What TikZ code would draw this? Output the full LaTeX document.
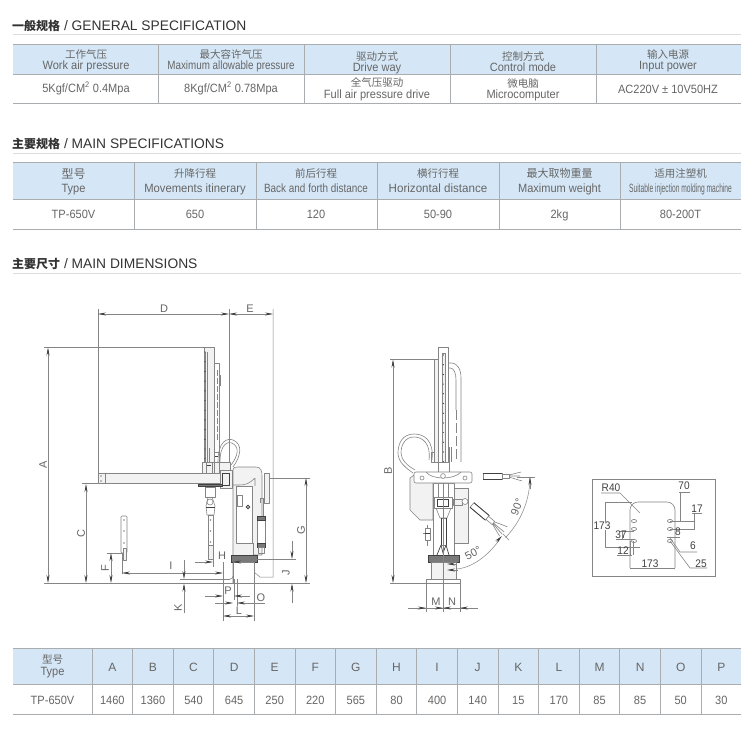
\documentclass[tikz,border=0pt]{standalone}
\usepackage{fontspec}
\usepackage{graphicx}
\setmainfont{Liberation Sans}
\newfontfamily\cjk{Noto Sans CJK SC}
\newfontfamily\cond[FakeStretch=0.92]{Liberation Sans}
\usetikzlibrary{arrows.meta}
\definecolor{hdfill}{HTML}{D5E7F6}
\definecolor{tline}{HTML}{A9ADB0}
\definecolor{rule}{HTML}{DDDDDD}
\definecolor{txt}{HTML}{666666}
\definecolor{head}{HTML}{333333}
\definecolor{lg}{HTML}{858585}
\definecolor{dk}{HTML}{404040}
\definecolor{pale}{HTML}{F2F2F2}
\newcommand{\sx}[2]{\scalebox{#1}[1]{#2}}
\newcommand{\hcell}[7]{%
  \node[cnt,font=\cjk\fontsize{#6}{#6}\selectfont] (#1c) at (#2,#3) {#4};
  \node[ent] (#1e) at (#2,#3+#7) {#5};}
\tikzset{
  heading/.style={anchor=base west,inner sep=0,text=head,font=\fontsize{13.8}{16}\selectfont},
  cnt/.style={anchor=base,inner sep=0,text=txt},
  ent/.style={anchor=base,inner sep=0,text=txt,font=\cond\fontsize{12}{14}\selectfont},
  tl/.style={draw=tline,line width=0.9pt},
  tv/.style={draw=tline,line width=0.7pt},
  part/.style={draw=lg,line width=0.6pt,line join=round},
  partf/.style={part,fill=pale},
  dimn/.style={draw=lg,line width=0.5pt},
  arr/.style={draw=lg,line width=0.5pt,>={Stealth[length=8pt,width=3pt,color=dk]}},
  lab/.style={inner sep=0,text=txt,font=\fontsize{11}{12}\selectfont},
  plab/.style={inner sep=0,text=dk,font=\cond\fontsize{11}{13}\selectfont},
  blackband/.style={draw=dk,fill=dk!70!white,line width=0.4pt},
}
\begin{document}
\begin{tikzpicture}[x=1pt,y=-1pt]
\useasboundingbox (0,0) rectangle (750,732);
\fill[white] (0,0) rectangle (750,732);
% ---------- headings
\node[heading] (h1) at (12,30) {{\cjk\bfseries\fontsize{12}{14}\selectfont 一般规格} / GENERAL SPECIFICATION};
\draw[rule,line width=1pt] (13,34.5) -- (741,34.5);
\node[heading] (h2) at (12,148.5) {{\cjk\bfseries\fontsize{12}{14}\selectfont 主要规格} / MAIN SPECIFICATIONS};
\draw[rule,line width=1pt] (13,153) -- (741,153);
\node[heading] (h3) at (12,268.5) {{\cjk\bfseries\fontsize{12}{14}\selectfont 主要尺寸} / MAIN DIMENSIONS};
\draw[rule,line width=1pt] (13,273.5) -- (741,273.5);
% ---------- table 1
\fill[hdfill] (13,44) rectangle (741,74.5);
\draw[tl] (13,44) -- (741,44) (13,74.5) -- (741,74.5) (13,103) -- (741,103);
\foreach \x in {158,304,450,596} \draw[tv] (\x,44) -- (\x,103);
\hcell{a1}{86}{58.5}{工作气压}{Work air pressure}{10.5}{11}
\hcell{a2}{231}{58.5}{最大容许气压}{\sx{0.89}{Maximum allowable pressure}}{10.5}{11}
\hcell{a3}{377}{60}{驱动方式}{Drive way}{10.5}{11}
\hcell{a4}{523}{60}{控制方式}{Control mode}{10.5}{11}
\hcell{a5}{668}{58.5}{输入电源}{Input power}{10.5}{11}
\node[ent] (b1) at (86,92) {5Kgf/CM\textsuperscript{2} 0.4Mpa};
\node[ent] (b2) at (231,92) {8Kgf/CM\textsuperscript{2} 0.78Mpa};
\hcell{b3}{377}{86.5}{全气压驱动}{Full air pressure drive}{10.5}{12}
\hcell{b4}{523}{87}{微电脑}{Microcomputer}{10.5}{11.5}
\node[ent] (b5) at (668,93) {AC220V ± 10V50HZ};
% ---------- table 2
\fill[hdfill] (13,162) rectangle (741,199);
\draw[tl] (13,162) -- (741,162) (13,199) -- (741,199) (13,229) -- (741,229);
\foreach \x in {134,256,377,499,620} \draw[tv] (\x,162) -- (\x,229);
\hcell{c1}{73.5}{178}{型号}{Type}{12}{14.5}
\hcell{c2}{195}{177}{升降行程}{\sx{1.02}{Movements itinerary}}{10.5}{15}
\hcell{c3}{316}{177}{前后行程}{\sx{0.9}{Back and forth distance}}{10.5}{15}
\hcell{c4}{438}{177}{横行行程}{\sx{1.05}{Horizontal distance}}{10.5}{15}
\hcell{c5}{559.5}{177}{最大取物重量}{Maximum weight}{11}{15}
\hcell{c6}{680.5}{177}{适用注塑机}{\sx{0.605}{Suitable injection molding machine}}{10.5}{15}
\node[ent] (d1) at (73.5,218.5) {TP-650V};
\node[ent] (d2) at (195,218.5) {650};
\node[ent] (d3) at (316,218.5) {120};
\node[ent] (d4) at (438,218.5) {50-90};
\node[ent] (d5) at (559.5,218.5) {2kg};
\node[ent] (d6) at (680.5,218.5) {80-200T};
% ---------- table 3
\fill[hdfill] (13,648) rectangle (741,684);
\draw[tl] (13,648) -- (741,648) (13,684) -- (741,684) (13,714) -- (741,714);
\draw[tv] (92,648) -- (92,714);
\foreach \i in {1,...,15} \draw[tv] ({92+\i*40.6},648) -- ({92+\i*40.6},714);
\hcell{t0}{52.5}{663}{型号}{Type}{10.5}{12}
\node[ent] (v0) at (52.5,704) {TP-650V};
\foreach \n/\l/\w [count=\i from 0] in {A/A/1460,B/B/1360,C/C/540,D/D/645,E/E/250,F/F/220,G/G/565,H/H/80,I/I/400,J/J/140,K/K/15,L/L/170,M/M/85,N/N/85,O/O/50,P/P/30}{
  \node[ent,font=\fontsize{12}{14}\selectfont] (th\n) at ({112.3+\i*40.6},671) {\l};
  \node[ent] (tv\n) at ({112.3+\i*40.6},704) {\w};
}
% ================= left view
\draw[dimn] (98,309) -- (98,473);
\draw[part] (229,309) -- (229,465);
\draw[dimn] (273,309) -- (273,577) -- (260,577) -- (254,572);
\draw[dimn] (44,347) -- (214,347);
\draw[part] (44,583.5) -- (310,583.5);
% rail
\draw[partf] (204,347) rectangle (214,470);
\draw[part] (205,352) -- (205,470) (207,352) -- (207,470);
\foreach \k in {0,...,11} \fill[dk] (205,{352+\k*9.7}) circle[radius=0.7pt];
\draw[part] (214,363) -- (219,363) -- (219,462);
\draw[part,dash pattern=on 6pt off 2pt] (217,370) -- (217,440);
\draw[part] (219,375) -- (220.5,375) -- (220.5,385) -- (219,385);
% hose
\draw[part] (218,462) .. controls (218,440) and (228,438) .. (233,440) .. controls (243,444) and (241,456) .. (233,467);
\draw[part] (220,462) .. controls (220,444) and (228,441) .. (232,443) .. controls (240,447) and (238,456) .. (231,465);
% head above arm
\draw[partf] (202,462) rectangle (230,473);
\draw[part] (206,462) rectangle (212,473) (214,452) rectangle (219,473);
\draw[part] (209,448) -- (209,462);
\draw[dk,line width=0.8pt] (207,465) -- (211,465) (215,456) -- (218,456);
% body
\draw[partf] (233,583) -- (233,470) .. controls (233,467) and (236,467) .. (240,467) -- (256,467) .. controls (261,467) and (262,471) .. (262,476) -- (262,555) -- (254,555) -- (254,583);
\draw[part,fill=white] (236,486) rectangle (252,543);
\draw[part] (233,485) -- (240,485) .. controls (246,485) and (250,483) .. (255,478) (255,478) -- (255,486);
\draw[part] (237,495) rectangle (242,506);
\draw[dk,line width=0.8pt] (248,507) circle[radius=1.8pt];
\draw[part] (253,543) -- (253,555);
% arm
\draw[partf] (98,473) rectangle (230,483);
\draw[part] (105,473) -- (105,483);
\fill[lg] (101,476) circle[radius=0.8pt] (101,481) circle[radius=0.8pt];
\draw[partf] (220,470) rectangle (232,488);
\draw[dk,line width=0.7pt] (222,473) rectangle (229,485);
\draw[blackband] (198,484) rectangle (222,486);
% centre gripper
\draw[part,fill=white] (205,487) rectangle (215,497);
\draw[part] (208,497) -- (206,506) -- (207,515) -- (214,515) -- (215,506) -- (212,497);
\draw[part] (210,502) circle[radius=3pt];
\draw[dk,line width=0.8pt] (206,507) -- (215,507);
\draw[part,fill=white] (208,515) rectangle (213,545);
\foreach \k in {520,531,542} \fill[lg] (210.5,\k) circle[radius=0.9pt];
\draw[part,fill=pale] (208,545) rectangle (213,559);
% left gripper
\draw[part,fill=white,rounded corners=1pt] (121,516) rectangle (127,553);
\foreach \k in {520,531,543} \fill[lg] (124,\k) circle[radius=0.9pt];
\draw[part,fill=pale] (123,548) rectangle (126,560);
\draw[part] (122,553) -- (122,574);
% cylinder and handle
\draw[partf] (264,473) rectangle (269,503);
\draw[part] (260,503) -- (260,498) -- (263,498) -- (263,517);
\draw[part,fill=white] (257,517) rectangle (265,547);
\draw[blackband] (257,516) rectangle (265,520);
\draw[blackband] (257,543) rectangle (265,547);
\draw[part] (258,547) rectangle (264,553);
% base ring and column
\draw[blackband] (231,555) rectangle (257,562);
\draw[part,fill=white] (233,562) rectangle (254,583);
\draw[part] (230,579) .. controls (232,579) and (233,578) .. (233,576);
% dimensions
\draw[arr,<->] (98,314) -- (229,314);
\draw[arr,<->] (229,314) -- (273,314);
\node[lab] (lD) at (164,309) {D};
\node[lab] (lE) at (250,309) {E};
\draw[arr,<->] (48,347.5) -- (48,583);
\node[lab,rotate=90] (lA) at (43,465) {A};
\draw[dimn] (82,483.5) -- (98,483.5);
\draw[arr,<->] (86,484) -- (86,583);
\node[lab,rotate=90] (lC) at (81,534) {C};
\draw[dimn] (107,553) -- (122,553);
\draw[arr,<->] (111,553) -- (111,583);
\node[lab,rotate=90] (lF) at (105,568) {F};
\draw[arr,<->] (122,573) -- (223,573);
\node[lab] (lI) at (171,566) {I};
\draw[dimn] (223,562) -- (223,621);
\draw[arr,->] (195,562) -- (213,562);
\draw[arr,->] (240,562) -- (233,562);
\draw[dimn] (213,558) -- (213,567);
\node[lab] (lH) at (222,556) {H};
\draw[arr,->] (184,560) -- (184,579);
\draw[arr,->] (184,613) -- (184,583.5);
\draw[dimn] (180,579) -- (230,579);
\node[lab,rotate=90] (lK) at (178,608) {K};
\draw[dimn] (237,579) -- (237,606);
\draw[dimn] (234,579) -- (234,600);
\draw[dimn] (254,583) -- (254,621);
\draw[arr,->] (205,596) -- (223,596);
\draw[arr,->] (250,596) -- (234,596);
\node[lab] (lP) at (228,590.5) {P};
\draw[arr,->] (215,603) -- (233,603);
\draw[arr,->] (265,603) -- (237,603);
\node[lab] (lO) at (261,598) {O};
\draw[arr,<->] (223,616) -- (254,616);
\node[lab] (lL) at (239,611) {L};
\draw[dimn] (257,559) -- (296,559);
\draw[arr,->] (292,541) -- (292,559);
\draw[arr,->] (292,603) -- (292,583.5);
\node[lab,rotate=90] (lJ) at (286,573) {J};
\draw[dimn] (269,478) -- (310,478);
\draw[arr,<->] (306,478) -- (306,583);
\node[lab,rotate=90] (lG) at (301,530) {G};
% ================= right view
\draw[part] (390,359) -- (434,359);
\draw[part] (390,583) -- (452,583);
\draw[arr,<->] (393,359.5) -- (393,583);
\node[lab,rotate=90] (lB) at (388,471) {B};
% rail
\draw[partf] (434,359) rectangle (438,462);
\draw[part,fill=white] (438,347) rectangle (448,463);
\draw[part,fill=pale] (442,353) rectangle (445,462);
\foreach \k in {0,...,11} \fill[dk] (443.5,{355+\k*9.7}) circle[radius=0.6pt];
% right hose
\draw[part] (448,363) -- (451,363) .. controls (458,363) and (461,370) .. (461,378) -- (461,462);
\draw[part] (448,368) -- (450,368) .. controls (454,368) and (456,373) .. (456,380) -- (456,410);
\draw[part,dash pattern=on 10pt off 3pt] (456,410) -- (456,462);
\draw[part] (449,447) -- (449,462) (451,447) -- (451,462);
% left hose loop
\draw[part] (432,460) .. controls (434,440) and (424,434) .. (414,434) .. controls (402,434) and (398,444) .. (398,453) .. controls (398,462) and (406,468) .. (413,473);
\draw[part] (429,460) .. controls (431,444) and (423,437) .. (414,437) .. controls (405,437) and (401,445) .. (401,453) .. controls (401,460) and (408,466) .. (415,470);
\draw[part] (431,452) rectangle (434,462);
% back plate and side plate
\draw[partf] (418,472) -- (410,478) -- (410,510) -- (420,520) -- (433,520) -- (433,483) -- cycle;
\draw[partf] (454,488) rectangle (468,543);
% column
\draw[part,fill=white] (433,483) rectangle (454,555);
\draw[part,fill=white] (438,462) rectangle (449,472);
\draw[part,fill=white] (438,483) rectangle (448,497);
\draw[part] (434,497) rectangle (452,508);
\draw[dk,line width=0.7pt] (437,499) rectangle (448,506);
\draw[part] (436,508) -- (440,518) -- (447,518) -- (451,508);
\draw[part] (453,499) rectangle (462,505);
\draw[part,fill=white] (465,501.5) circle[radius=3pt];
\draw[part,fill=white] (441,518) rectangle (446,545);
\draw[dk,line width=0.9pt] (441,518) -- (441,545) (446,518) -- (446,545);
\draw[dk,line width=0.7pt] (441,545) -- (437,555) (446,545) -- (449,555) (441,545) -- (443,553) -- (446,545);
% valve at left of column
\draw[part] (425,528) rectangle (430,540) (423,533) -- (425,533) (427,525) -- (427,528) (427,540) -- (427,546);
\draw[dk,line width=0.8pt] (425,533) -- (430,533);
% plate
\draw[part,fill=white,rounded corners=2pt] (414,472) rectangle (472,483);
\draw[part] (426,472) .. controls (432,480) and (454,480) .. (461,472);
\draw[part,fill=white] (422,478) circle[radius=2pt];
\draw[part,fill=white] (465,478) circle[radius=2pt];
\draw[part,fill=white] (443,476) circle[radius=2.4pt];
% base
\draw[blackband] (428,555) rectangle (459,562);
\draw[partf] (431,562) rectangle (456,579);
\draw[part,fill=white] (426,579) rectangle (460,583);
\draw[part] (426,583) -- (426,612) (460,583) -- (460,612);
\draw[part] (443,483) -- (443,612);
\draw[arr] (408,608) -- (478,608);
\draw[arr,->] (414,608) -- (426,608);
\draw[arr,->] (433,608) -- (443,608);
\draw[arr,->] (453,608) -- (443,608);
\draw[arr,->] (470,608) -- (460,608);
\node[lab] (lM) at (436,601.5) {M};
\node[lab] (lN) at (452,601.5) {N};
% arcs
\draw[dimn] plot[domain=0:44,samples=24] ({443+87*cos(\x)},{477+87*sin(\x)});
\draw[dimn] (457,569) .. controls (475,567) and (490,553) .. (500,539);
\draw[dimn] (517,477) -- (535,477);
\draw[arr,->] (530,489) -- (530,477);
\draw[arr,->] (457,564) -- (447,564);
\draw[arr,->] (458,570) -- (447,570);
\draw[dimn] (503,534) -- (509,540);
\draw[arr,->] (496.5,541.5) -- (502,536);
\node[lab] (l50) at (473,553) {\rotatebox{27}{50°}};
\node[lab] (l90) at (517,507) {\rotatebox{68}{90°}};
% gripper at 90
\draw[part,fill=white] (483,473) rectangle (502,479);
\draw[dk,line width=0.8pt] (483,473) -- (502,473) (483,479) -- (502,479);
\draw[part,fill=white] (502,474) rectangle (509,478);
\draw[part] (509,475) -- (521,472) (509,477) -- (522,481) (509,476) -- (520,476);
% gripper at 50
\begin{scope}[shift={(472,505)},rotate=-40]
\draw[part,fill=white] (0,-3) rectangle (20,3);
\draw[dk,line width=0.8pt] (0,-3) -- (20,-3) (0,3) -- (20,3);
\draw[part,fill=white] (20,-2) rectangle (28,2);
\draw[part] (28,-1.5) -- (41,-6) (28,1.5) -- (41,6) (28,0) -- (42,0) (28,0.7) -- (42,3);
\end{scope}
% ================= mould plate
\draw[lg,line width=0.7pt] (592,479) rectangle (715,576);
\draw[part,rounded corners=8pt] (630,568) -- (630,502) -- (675,502) -- (675,568);
\draw[part] (630,568) -- (675,568);
\draw[part] (605,502) -- (632,502) (605,502) -- (605,547) -- (640,547);
\foreach \y in {521,529,541} {
  \draw[part] (634,\y) ellipse[x radius=2.6pt,y radius=1.6pt];
  \draw[part] (670,\y) ellipse[x radius=2.6pt,y radius=1.6pt];
}
\draw[part] (601,493) -- (620,493) -- (640,513);
\draw[part] (679,492) -- (690,492) (680,492) -- (680,521) (670,521) -- (695,521);
\draw[part] (692,513) -- (702,513) (694,513) -- (694,530) (670,529) -- (695,529);
\draw[part] (667,537) -- (680,537);
\draw[part] (670,538) -- (680,552) -- (697,552);
\draw[part] (670,541) -- (690,568) -- (707,568);
\draw[part] (616,539) -- (634,539) (620,531) -- (634,531) (622,531) -- (622,539);
\draw[part] (617,555) -- (632,555) (630,541) -- (630,555) (633,541) -- (633,555);
\node[plab] (m1) at (611,488) {R40};
\node[plab] (m2) at (684,486) {70};
\node[plab] (m3) at (697,508.5) {17};
\node[plab] (m4) at (678,532) {8};
\node[plab] (m5) at (693,546) {6};
\node[plab] (m6) at (701,563.5) {25};
\node[plab,fill=white,inner sep=0.5pt] (m7) at (602,526) {173};
\node[plab] (m8) at (621,535) {37};
\node[plab] (m9) at (623,550.5) {12};
\node[plab] (m10) at (650,564) {173};
\end{tikzpicture}
\end{document}
